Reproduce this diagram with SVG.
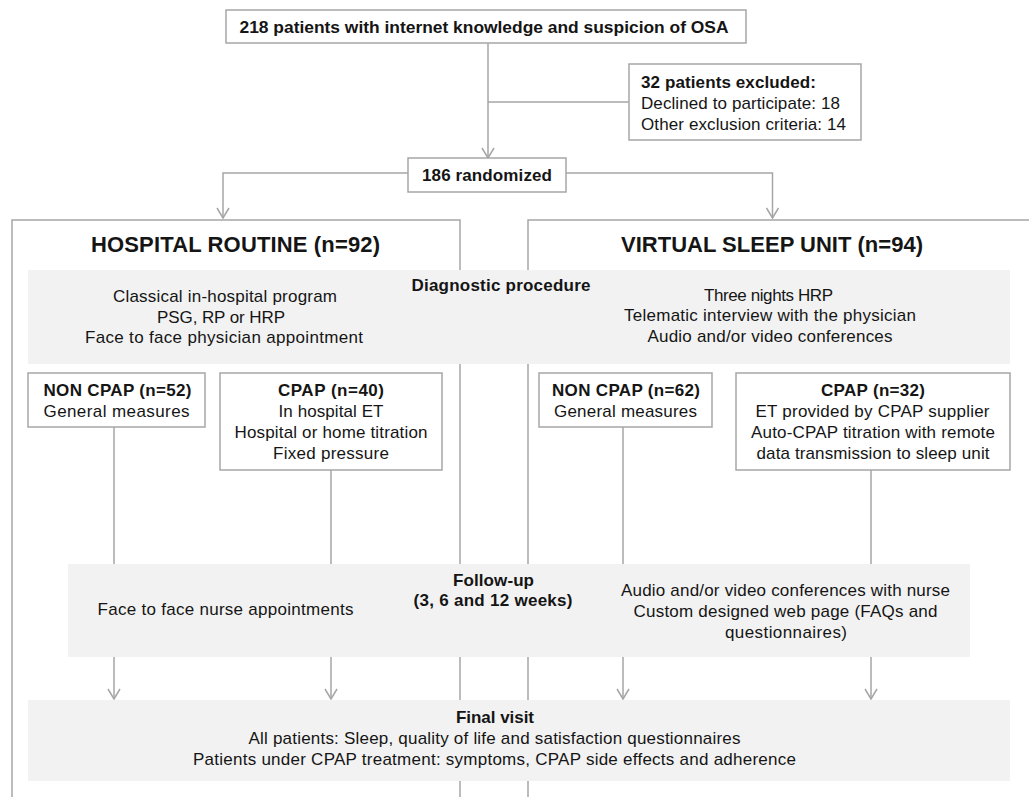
<svg xmlns="http://www.w3.org/2000/svg" width="1029" height="797" viewBox="0 0 1029 797">
<style>
text{font-family:"Liberation Sans",Arial,sans-serif;font-size:17px;fill:#151515}
.b{font-weight:bold}
.h{font-weight:bold;font-size:22px}
.m{text-anchor:middle}
.ln{fill:none;stroke:#a6a6a6;stroke-width:1.5}
.box{fill:#fff;stroke:#a6a6a6;stroke-width:1.5}
.band{fill:#f2f2f2;stroke:none}
</style>
<defs>
<marker id="arr" viewBox="-12 -8 14 16" markerWidth="14" markerHeight="16" refX="0" refY="0" orient="auto" markerUnits="userSpaceOnUse">
<path d="M-10,-6 L0,0 L-10,6" fill="none" stroke="#a6a6a6" stroke-width="1.5"/>
</marker>
</defs>
<rect width="1029" height="797" fill="#fff"/>

<g id="panels">
<path class="ln" d="M12,797 V220 H460 V797"/>
<path class="ln" d="M528,797 V220 H1029"/>
</g>

<g id="connectors">
<path class="ln" d="M488,43 V158" marker-end="url(#arr)"/>
<path class="ln" d="M488,102 H629"/>
<path class="ln" d="M408,173 H223 V218" marker-end="url(#arr)"/>
<path class="ln" d="M566,173 H772.5 V218" marker-end="url(#arr)"/>
<path class="ln" d="M114,427 V699" marker-end="url(#arr)"/>
<path class="ln" d="M331,470 V699" marker-end="url(#arr)"/>
<path class="ln" d="M623,427 V699" marker-end="url(#arr)"/>
<path class="ln" d="M871,470 V699" marker-end="url(#arr)"/>
</g>

<g id="title-box">
<rect class="box" x="226" y="10" width="520" height="33"/>
<text class="b m" x="484" y="32.5" textLength="489" lengthAdjust="spacingAndGlyphs">218 patients with internet knowledge and suspicion of OSA</text>
</g>

<g id="excluded-box">
<rect class="box" x="629" y="64" width="232" height="76"/>
<text class="b" x="641" y="88" textLength="175">32 patients excluded:</text>
<text x="641" y="109" textLength="199">Declined to participate: 18</text>
<text x="641" y="129.5" textLength="205">Other exclusion criteria: 14</text>
</g>

<g id="randomized-box">
<rect class="box" x="408" y="158" width="158" height="34"/>
<text class="b m" x="487" y="181" textLength="130">186 randomized</text>
</g>

<g id="hospital-heading">
<text class="h m" x="235.5" y="252" textLength="289">HOSPITAL ROUTINE (n=92)</text>
</g>
<g id="virtual-heading">
<text class="h m" x="772" y="252" textLength="302">VIRTUAL SLEEP UNIT (n=94)</text>
</g>

<g id="diagnostic-band">
<rect class="band" x="28" y="270" width="982" height="94"/>
<text class="b m" x="501" y="291" textLength="179">Diagnostic procedure</text>
<text class="m" x="225" y="301.5" textLength="224">Classical in-hospital program</text>
<text class="m" x="221" y="322.5" textLength="128">PSG, RP or HRP</text>
<text class="m" x="224" y="343" textLength="278">Face to face physician appointment</text>
<text class="m" x="768.5" y="300.5" textLength="129">Three nights HRP</text>
<text class="m" x="770" y="321" textLength="292">Telematic interview with the physician</text>
<text class="m" x="770" y="341.5" textLength="245">Audio and/or video conferences</text>
</g>

<g id="hr-noncpap">
<rect class="box" x="28" y="373" width="177" height="54"/>
<text class="b m" x="117.5" y="396" textLength="148">NON CPAP (n=52)</text>
<text class="m" x="116.5" y="416.5" textLength="146">General measures</text>
</g>

<g id="hr-cpap">
<rect class="box" x="220" y="373" width="222" height="97"/>
<text class="b m" x="331" y="396" textLength="106">CPAP (n=40)</text>
<text class="m" x="331" y="417" textLength="105">In hospital ET</text>
<text class="m" x="331" y="438" textLength="193">Hospital or home titration</text>
<text class="m" x="331" y="459" textLength="116">Fixed pressure</text>
</g>

<g id="vsu-noncpap">
<rect class="box" x="539" y="373" width="173" height="54"/>
<text class="b m" x="626" y="396" textLength="148">NON CPAP (n=62)</text>
<text class="m" x="625.5" y="416.5" textLength="143">General measures</text>
</g>

<g id="vsu-cpap">
<rect class="box" x="736" y="373" width="274" height="97"/>
<text class="b m" x="873" y="396" textLength="104">CPAP (n=32)</text>
<text class="m" x="872.5" y="417" textLength="234">ET provided by CPAP supplier</text>
<text class="m" x="873" y="438" textLength="244">Auto-CPAP titration with remote</text>
<text class="m" x="873" y="459" textLength="233">data transmission to sleep unit</text>
</g>

<g id="followup-band">
<rect class="band" x="68" y="564" width="902" height="93"/>
<text class="b m" x="493.5" y="586" textLength="81">Follow-up</text>
<text class="b m" x="493" y="606" textLength="159">(3, 6 and 12 weeks)</text>
<text class="m" x="225.5" y="615" textLength="256">Face to face nurse appointments</text>
<text class="m" x="785.5" y="596" textLength="329">Audio and/or video conferences with nurse</text>
<text class="m" x="785.5" y="617" textLength="304">Custom designed web page (FAQs and</text>
<text class="m" x="786" y="638" textLength="122">questionnaires)</text>
</g>

<g id="final-band">
<rect class="band" x="28" y="700" width="982" height="81"/>
<text class="b m" x="495" y="722.5" textLength="78">Final visit</text>
<text class="m" x="494.5" y="744" textLength="492">All patients: Sleep, quality of life and satisfaction questionnaires</text>
<text class="m" x="494.5" y="765" textLength="603">Patients under CPAP treatment: symptoms, CPAP side effects and adherence</text>
</g>
</svg>
